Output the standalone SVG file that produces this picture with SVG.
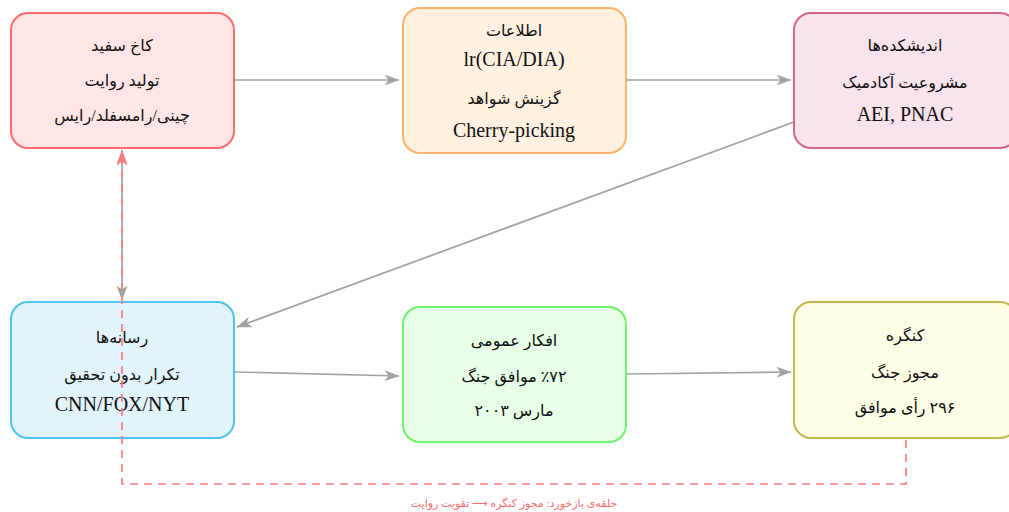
<svg xmlns="http://www.w3.org/2000/svg" width="1009" height="512" viewBox="0 0 1009 512">
<defs>
<marker id="ag" viewBox="0 0 15 11" refX="14.5" refY="5.5" markerWidth="15" markerHeight="11" markerUnits="userSpaceOnUse" orient="auto-start-reverse">
<path d="M0,0 L15,5.5 L0,11 L4,5.5 z" fill="#a3a3a3"/>
</marker>
<marker id="ar" viewBox="0 0 15 11" refX="14.5" refY="5.5" markerWidth="15" markerHeight="11" markerUnits="userSpaceOnUse" orient="auto-start-reverse">
<path d="M0,0 L15,5.5 L0,11 L4,5.5 z" fill="#ff7b7b"/>
</marker>
</defs>
<style>
.box{stroke-width:2}
.fa{font-family:"Liberation Serif","DejaVu Sans",serif;font-size:16px;fill:#111;text-anchor:middle;direction:rtl}
.en{font-family:"Liberation Serif",serif;font-size:20px;fill:#111;text-anchor:middle}
.edge{stroke:#a3a3a3;stroke-width:1.7;fill:none}
.fb{stroke:#ff7b7b;stroke-width:1.7;fill:none;stroke-dasharray:8 6}
.lbl{font-family:"Liberation Serif","DejaVu Sans",serif;font-size:11px;fill:#ff6b6b;text-anchor:middle;direction:rtl}
</style>
<rect width="1009" height="512" fill="#ffffff"/>
<g id="connectors">
<line class="edge" x1="235" y1="80" x2="399" y2="80" marker-end="url(#ag)"/>
<line class="edge" x1="627" y1="80" x2="791" y2="80" marker-end="url(#ag)"/>
<line class="edge" x1="794" y1="122" x2="237" y2="327" marker-end="url(#ag)"/>
<line class="edge" x1="235" y1="372" x2="399" y2="376" marker-end="url(#ag)"/>
<line class="edge" x1="627" y1="374" x2="791" y2="372" marker-end="url(#ag)"/>
<line class="edge" x1="122" y1="150" x2="122" y2="300" marker-start="url(#ag)" marker-end="url(#ag)"/>
</g>
<g id="node-whitehouse">
<rect class="box" x="11" y="13" width="223" height="135" rx="17" fill="#ffe5e5" stroke="#ff6b6b"/>
<text class="fa" x="122" y="51">کاخ سفید</text>
<text class="fa" x="122" y="86">تولید روایت</text>
<text class="fa" x="122" y="121">چینی/رامسفلد/رایس</text>
</g>
<g id="node-intel">
<rect class="box" x="403" y="8" width="223" height="145" rx="17" fill="#fff0e0" stroke="#ffb366"/>
<text class="fa" x="514" y="36">اطلاعات</text>
<text class="en" x="514" y="66">lr(CIA/DIA)</text>
<text class="fa" x="514" y="104">گزینش شواهد</text>
<text class="en" x="514" y="137">Cherry-picking</text>
</g>
<g id="node-thinktanks">
<rect class="box" x="794" y="13" width="223" height="135" rx="17" fill="#f9e3ec" stroke="#d6648c"/>
<text class="fa" x="905" y="51">اندیشکده‌ها</text>
<text class="fa" x="905" y="88">مشروعیت آکادمیک</text>
<text class="en" x="905" y="121">AEI, PNAC</text>
</g>
<g id="node-media">
<rect class="box" x="11" y="302" width="223" height="136" rx="17" fill="#e1f4fb" stroke="#4cc4ec"/>
<text class="fa" x="122" y="343">رسانه‌ها</text>
<text class="fa" x="122" y="380">تکرار بدون تحقیق</text>
<text class="en" x="122" y="411">CNN/FOX/NYT</text>
</g>
<g id="node-public">
<rect class="box" x="403" y="307" width="223" height="135" rx="17" fill="#e6ffe6" stroke="#6cf46c"/>
<text class="fa" x="514" y="346">افکار عمومی</text>
<text class="fa" x="514" y="382">٪۷۲ موافق جنگ</text>
<text class="fa" x="514" y="416">مارس ۲۰۰۳</text>
</g>
<g id="node-congress">
<rect class="box" x="794" y="302" width="223" height="136" rx="17" fill="#fffde6" stroke="#c4b84c"/>
<text class="fa" x="905" y="341">کنگره</text>
<text class="fa" x="905" y="378">مجوز جنگ</text>
<text class="fa" x="905" y="413">۲۹۶ رأی موافق</text>
</g>
<g id="feedback">
<path class="fb" d="M906,440 L906,484 L122,484 L122,151" marker-end="url(#ar)"/>
<text class="lbl" x="514" y="507">حلقه‌ی بازخورد: مجوز کنگره ⟶ تقویت روایت</text>
</g>
</svg>
